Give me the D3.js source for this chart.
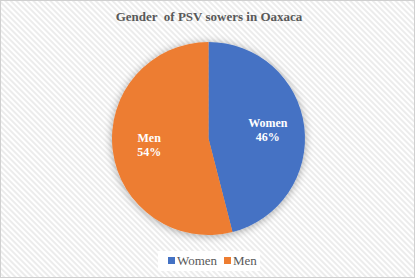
<!DOCTYPE html>
<html>
<head>
<meta charset="utf-8">
<script src="https://cdn.jsdelivr.net/npm/d3@7"></script>
<style>
body { margin: 0; background: #fff; }
svg text { font-family: "Times New Roman", "Liberation Serif", "DejaVu Serif", serif; }
</style>
</head>
<body>
<script>
var categories = ["Women", "Men"];
var values = [46, 54];
var colors = ["#4472C4", "#ED7D31"];

var width = 417, height = 280;
var svg = d3.select("body").append("svg").attr("width", width).attr("height", height);

var defs = svg.append("defs");
// faint diagonal hatch of the chart area
var pat = defs.append("pattern")
		.attr("id", "hatch")
		.attr("patternUnits", "userSpaceOnUse")
		.attr("width", 4).attr("height", 4)
		.attr("patternTransform", "rotate(45)");
pat.append("rect").attr("width", 4).attr("height", 4).attr("fill", "#fff");
pat.append("rect").attr("width", 4).attr("height", 2).attr("fill", "#ececec");

var shadow = defs.append("filter").attr("id", "shadow")
		.attr("x", "-20%").attr("y", "-20%").attr("width", "140%").attr("height", "140%");
shadow.append("feGaussianBlur").attr("in", "SourceAlpha").attr("stdDeviation", 4);
shadow.append("feOffset").attr("dx", 0).attr("dy", 1).attr("result", "b");
shadow.append("feComponentTransfer").append("feFuncA").attr("type", "linear").attr("slope", 0.35);
var merge = shadow.append("feMerge");
merge.append("feMergeNode");
merge.append("feMergeNode").attr("in", "SourceGraphic");

svg.append("rect")
		.attr("x", 0.5).attr("y", 0.5)
		.attr("width", 414).attr("height", 277)
		.attr("fill", "url(#hatch)")
		.attr("stroke", "#d0d0d0");

svg.append("text")
		.attr("x", 209).attr("y", 21)
		.attr("text-anchor", "middle")
		.attr("font-weight", "bold")
		.attr("font-size", 13)
		.attr("fill", "#595959")
		.attr("xml:space", "preserve")
		.text("Gender  of PSV sowers in Oaxaca");

var cx = 208.5, cy = 138.5, r = 96.5;
var pie = d3.pie().sort(null).value(function(d){ return d; });
var arc = d3.arc().innerRadius(0).outerRadius(r);
var arcs = pie(values);

var g = svg.append("g").attr("transform", "translate(" + cx + "," + cy + ")");
g.append("g").attr("filter", "url(#shadow)")
	.selectAll("path")
		.data(arcs)
		.enter().append("path")
		.attr("d", arc)
		.attr("fill", function(d, i){ return colors[i]; });

var labelArc = d3.arc().innerRadius(r * 0.62).outerRadius(r * 0.62);
var lbl = g.selectAll("text.lbl")
		.data(arcs)
		.enter().append("text")
		.attr("class", "lbl")
		.attr("transform", function(d){ var c = labelArc.centroid(d); return "translate(" + c[0] + "," + (c[1] - 2) + ")"; })
		.attr("text-anchor", "middle")
		.attr("font-weight", "bold")
		.attr("font-size", 12)
		.attr("fill", "#fff");
lbl.append("tspan").attr("x", 0).attr("dy", "-0.2em").text(function(d, i){ return categories[i]; });
lbl.append("tspan").attr("x", 0).attr("dy", "1.2em").text(function(d){ return d.value + "%"; });

// legend
var legend = svg.append("g");
legend.append("rect")
		.attr("x", 158).attr("y", 251).attr("width", 102).attr("height", 20)
		.attr("fill", "#fff");
var lx = d3.scalePoint().domain(categories).range([168, 224]);
var items = legend.selectAll("g.item")
		.data(categories)
		.enter().append("g")
		.attr("class", "item")
		.attr("transform", function(d){ return "translate(" + lx(d) + ",261)"; });
items.append("rect")
		.attr("x", 0).attr("y", -4).attr("width", 7).attr("height", 7)
		.attr("fill", function(d, i){ return colors[i]; });
items.append("text")
		.attr("x", 9).attr("y", 4)
		.attr("font-size", 13)
		.attr("fill", "#595959")
		.text(function(d){ return d; });
</script>
</body>
</html>
